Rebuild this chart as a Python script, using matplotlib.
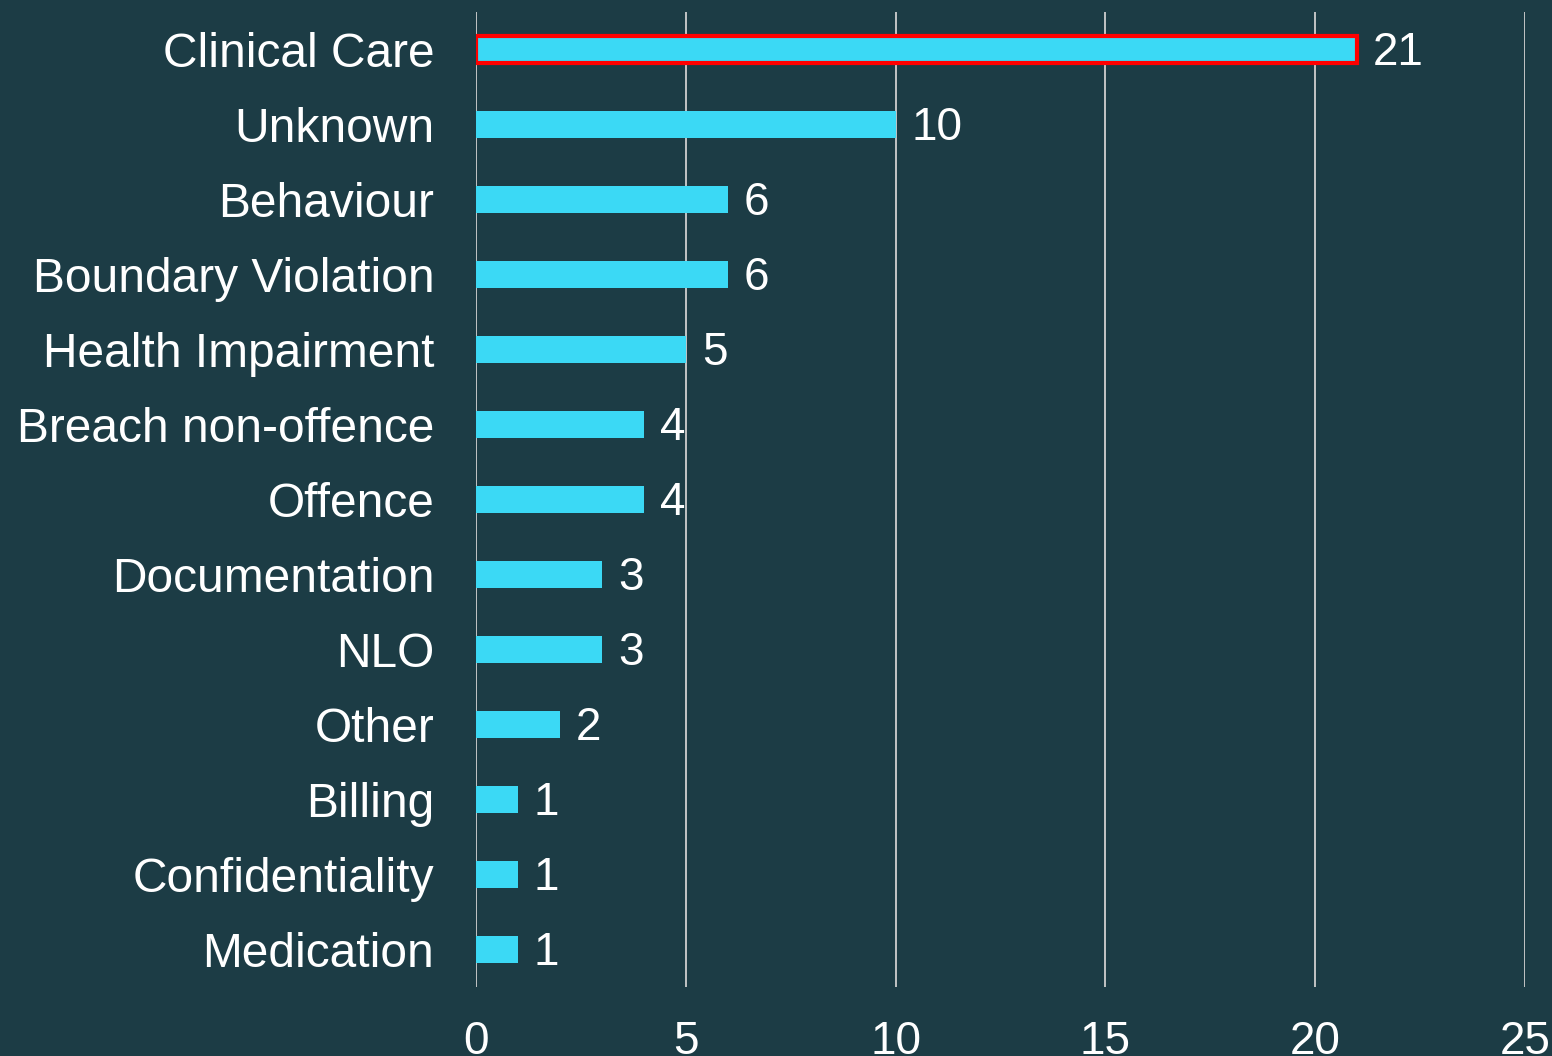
import matplotlib
matplotlib.use("Agg")
import matplotlib.pyplot as plt

categories = ["Clinical Care", "Unknown", "Behaviour", "Boundary Violation",
              "Health Impairment", "Breach non-offence", "Offence", "Documentation",
              "NLO", "Other", "Billing", "Confidentiality", "Medication"]
values = [21, 10, 6, 6, 5, 4, 4, 3, 3, 2, 1, 1, 1]
xticks = [0, 5, 10, 15, 20, 25]

BG = "#1c3c45"
BAR = "#3bd9f5"

plt.rcParams['font.family'] = ['Liberation Sans', 'DejaVu Sans']

fig = plt.figure(figsize=(15.52, 10.56), dpi=100, facecolor=BG)
ax = fig.add_axes([476/1552, 1-987/1056, (1525-476)/1552, (987-12)/1056], facecolor=BG)

ypos = list(range(len(categories)))
bars = ax.barh(ypos, values, height=0.35, color=BAR, zorder=3)
bars[0].set_edgecolor("#ff0000")
bars[0].set_linewidth(3)

for y, v in zip(ypos, values):
    ax.text(v + 0.38, y + 0.05, str(v), ha="left", va="center", color="white",
            fontsize=33, zorder=4)

ax.set_ylim(len(categories) - 0.5, -0.5)
ax.set_xlim(0, 25)
ax.set_xticks(xticks)
ax.set_xticklabels([str(t) for t in xticks])
ax.set_yticks(ypos)
ax.set_yticklabels(categories)
ax.tick_params(axis="x", length=0, pad=24, labelsize=33, colors="white")
ax.tick_params(axis="y", length=0, pad=30, labelsize=34.5, colors="white")
ax.grid(axis="x", color="#cfcfcf", linewidth=1.3, zorder=1)
for s in ax.spines.values():
    s.set_visible(False)

fig.savefig("out.png", dpi=100, facecolor=BG)
